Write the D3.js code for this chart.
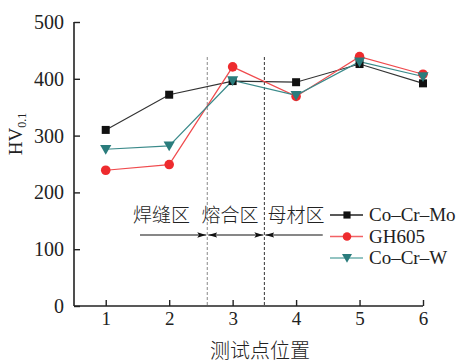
<!DOCTYPE html>
<html>
<head>
<meta charset="utf-8">
<script src="https://cdn.jsdelivr.net/npm/d3@7"></script>
<style>
  body { margin: 0; background: #fff; }
  text { font-family: "Liberation Serif", "DejaVu Serif", serif; fill: #222; }
  .cjk { font-family: "Noto Sans CJK SC", sans-serif; font-weight: 300; }
</style>
</head>
<body>
<svg id="chart" width="461" height="364"></svg>
<script>
// data
var positions = [1, 2, 3, 4, 5, 6];
var coCrMo = [310, 372, 396, 394, 426, 392];
var gh605 = [239, 249, 421, 369, 439, 408];
var coCrW = [276, 282, 397, 371, 430, 404];
var yTicks = [0, 100, 200, 300, 400, 500];
var zoneBounds = [2.6, 3.5];
var zoneLabels = ["焊缝区", "熔合区", "母材区"];
var seriesNames = ["Co\u2013Cr\u2013Mo", "GH605", "Co\u2013Cr\u2013W"];

var SERIES = [
    { name: seriesNames[0], values: coCrMo, color: "#111", lineColor: "#333", legendLine: "#222", symbol: d3.symbolSquare, size: 64 },
    { name: seriesNames[1], values: gh605, color: "#ee2b2e", lineColor: "#f04a4d", legendLine: "#f26265", symbol: d3.symbolCircle, size: 72 },
    { name: seriesNames[2], values: coCrW, color: "#2a7c7c", lineColor: "#3a8a8a", legendLine: "#6fb0ae", symbol: d3.symbolTriangle, size: 54 }
];

var svg = d3.select("#chart");
var xScale = d3.scaleLinear().domain([0.5, 6]).range([74, 423]);
var yScale = d3.scaleLinear().domain([0, 500]).range([306, 22]);

// dashed zone boundaries
svg.selectAll(".zone-line")
    .data(zoneBounds)
    .enter()
    .append("line")
    .attr("x1", d => xScale(d))
    .attr("x2", d => xScale(d))
    .attr("y1", 57)
    .attr("y2", yScale(0))
    .attr("stroke", (d, i) => i == 0 ? "#888" : "#333")
    .attr("stroke-width", 1)
    .attr("stroke-dasharray", "3,2");

// axes
var xAxis = d3.axisBottom(xScale).tickValues(positions).tickSize(-6).tickPadding(10).tickFormat(d3.format("d"));
var yAxis = d3.axisLeft(yScale).tickValues(yTicks).tickSize(-6).tickPadding(10);

var gx = svg.append("g").attr("transform", "translate(0," + yScale(0) + ")").call(xAxis);
var gy = svg.append("g").attr("transform", "translate(" + xScale(0.5) + ",0)").call(yAxis);
[gx, gy].forEach(function (g) {
    g.select(".domain").attr("stroke", "#222").attr("stroke-width", 1.6);
    g.selectAll(".tick line").attr("stroke", "#222").attr("stroke-width", 1.4);
    g.selectAll(".tick text").attr("font-family", "Liberation Serif").attr("font-size", 19).attr("fill", "#222");
});
gy.selectAll(".tick text").attr("font-size", 20);
gx.select(".domain").attr("d", "M" + xScale(0.5) + ",0H" + xScale(6));
gy.select(".domain").attr("d", "M0," + yScale(0) + "V" + yScale(500));
gx.selectAll(".tick text").attr("dy", "0.71em").attr("y", 6);

// axis titles
svg.append("text")
    .attr("class", "cjk")
    .attr("x", 260)
    .attr("y", 358)
    .attr("text-anchor", "middle")
    .attr("font-size", 20)
    .text("测试点位置");

var yl = svg.append("text")
    .attr("transform", "translate(22,134) rotate(-90)")
    .attr("text-anchor", "middle")
    .attr("font-size", 19);
yl.append("tspan").text("HV");
yl.append("tspan").attr("font-size", 12).attr("dy", 4).text("0.1");

// zone labels and arrows
var labelX = [1.88, 2.96, 4.0];
svg.selectAll(".zone-label")
    .data(zoneLabels)
    .enter()
    .append("text")
    .attr("class", "cjk")
    .attr("x", (d, i) => xScale(labelX[i]))
    .attr("y", 222)
    .attr("text-anchor", "middle")
    .attr("font-size", 19)
    .text(d => d);

var defs = svg.append("defs");
defs.append("marker")
    .attr("id", "ah")
    .attr("viewBox", "0 0 10 6")
    .attr("refX", 10).attr("refY", 3)
    .attr("markerWidth", 9).attr("markerHeight", 6)
    .attr("markerUnits", "userSpaceOnUse")
    .attr("orient", "auto-start-reverse")
    .append("path")
    .attr("d", "M0,0L10,3L0,6L2,3Z")
    .attr("fill", "#111");

var arrows = [
    { from: 1.54, to: zoneBounds[0], both: false },
    { from: zoneBounds[0], to: zoneBounds[1], both: true },
    { from: 4.42, to: zoneBounds[1], both: false }
];
svg.selectAll(".arrow")
    .data(arrows)
    .enter()
    .append("line")
    .attr("x1", d => xScale(d.from) + (d.both ? 1 : 0))
    .attr("x2", d => xScale(d.to) + (d.from > d.to ? 1 : -1))
    .attr("y1", 235).attr("y2", 235)
    .attr("stroke", "#111")
    .attr("stroke-width", 1.2)
    .attr("marker-end", "url(#ah)")
    .attr("marker-start", d => d.both ? "url(#ah)" : null);

// series lines and markers
var lineGen = d3.line()
    .x((d, i) => xScale(positions[i]))
    .y(d => yScale(d));

SERIES.forEach(function (s) {
    svg.append("path")
        .attr("d", lineGen(s.values))
        .attr("fill", "none")
        .attr("stroke", s.lineColor)
        .attr("stroke-width", 1.2);
});

SERIES.forEach(function (s) {
    var rot = s.symbol === d3.symbolTriangle ? 180 : 0;
    svg.selectAll(null)
        .data(s.values)
        .enter()
        .append("path")
        .attr("d", d3.symbol().type(s.symbol).size(s.size))
        .attr("transform", (d, i) => "translate(" + xScale(positions[i]) + "," + (yScale(d) - (rot ? 1 : 0)) + ") rotate(" + rot + ")")
        .attr("fill", s.color);
});

// legend
var legend = svg.append("g").attr("transform", "translate(330,215)");
SERIES.forEach(function (s, i) {
    var g = legend.append("g").attr("transform", "translate(0," + (i * 21.5) + ")");
    g.append("line")
        .attr("x1", 0).attr("x2", 33)
        .attr("stroke", s.legendLine)
        .attr("stroke-width", 1.4);
    var rot = s.symbol === d3.symbolTriangle ? 180 : 0;
    g.append("path")
        .attr("d", d3.symbol().type(s.symbol).size(s.size * 0.8))
        .attr("transform", "translate(17," + (rot ? -1 : 0) + ") rotate(" + rot + ")")
        .attr("fill", s.color);
    g.append("text")
        .attr("x", 39)
        .attr("y", 6)
        .attr("font-size", 19)
        .text(s.name);
});
</script>
</body>
</html>
